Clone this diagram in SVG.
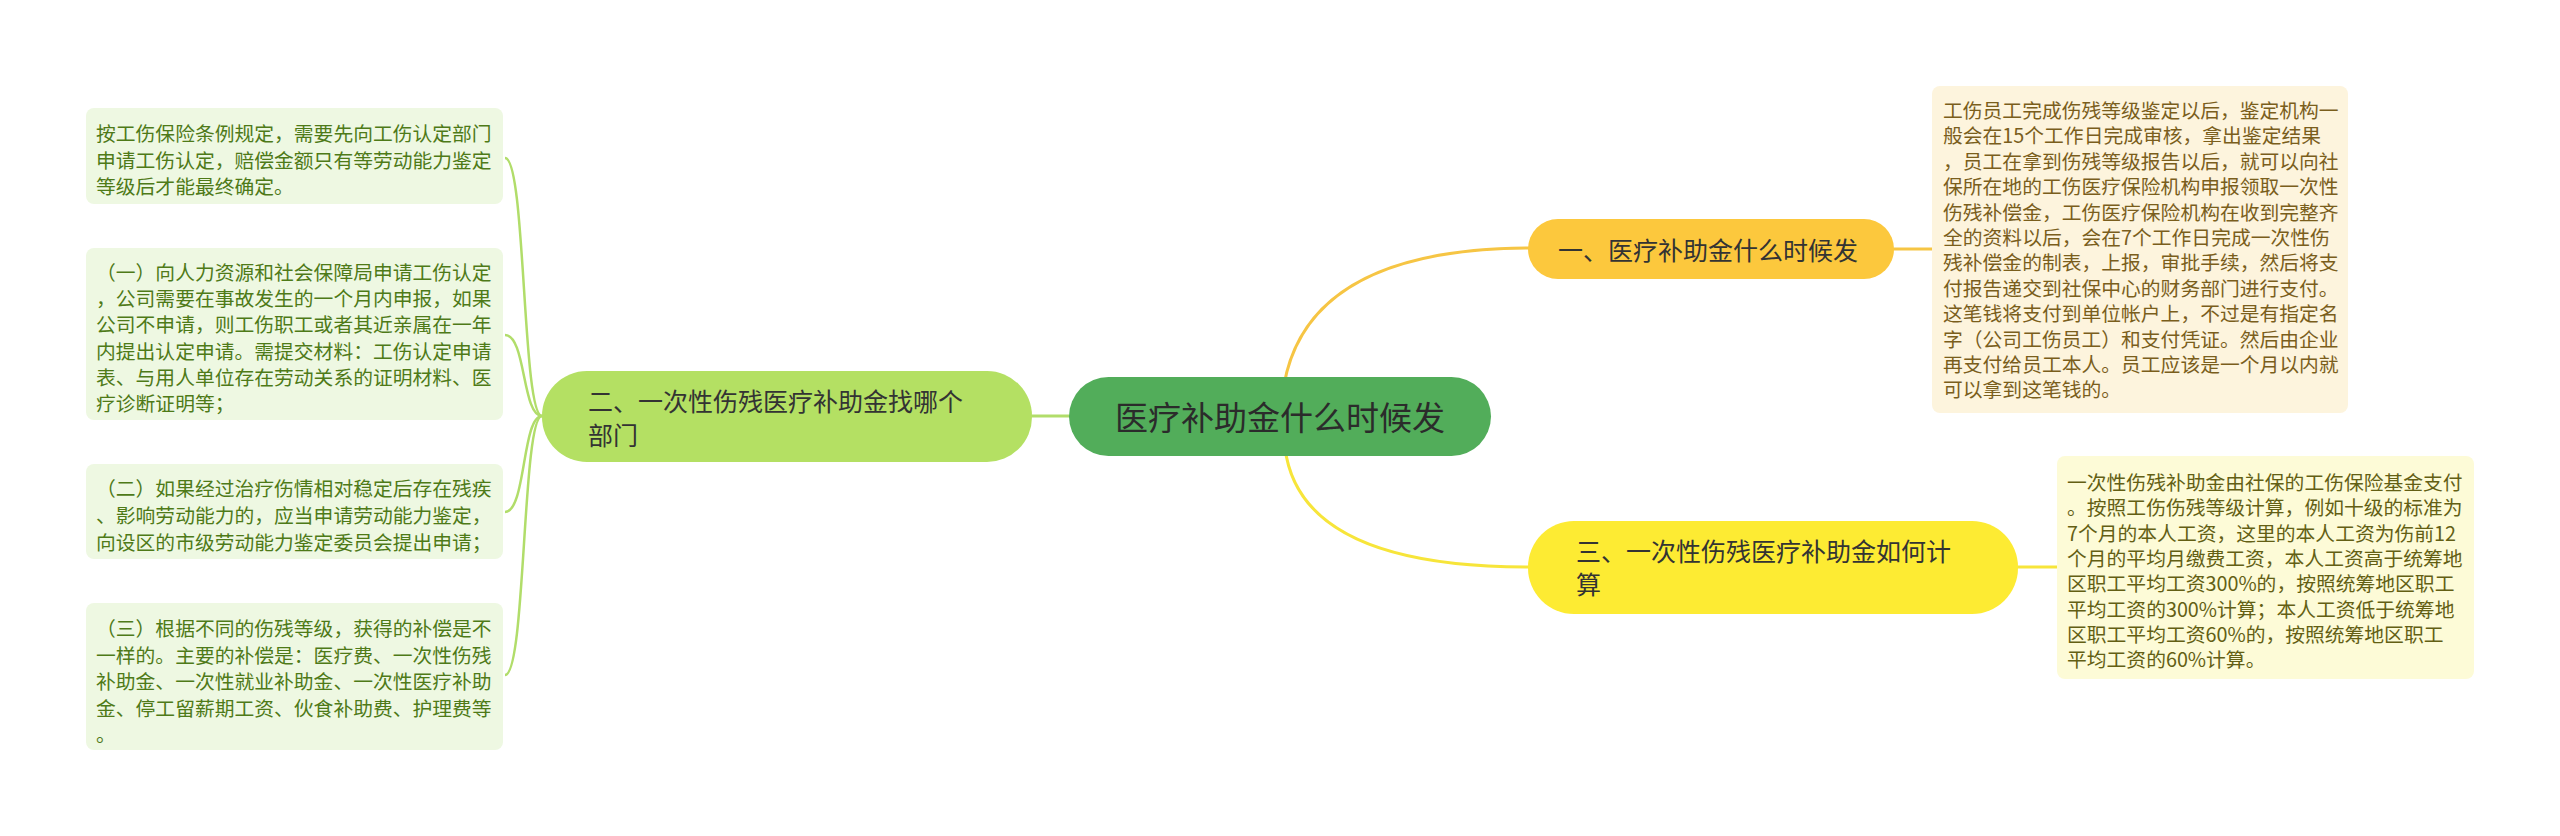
<svg xmlns="http://www.w3.org/2000/svg" width="2560" height="836" viewBox="0 0 2560 836">
<style>
text{font-family:"Noto Sans CJK SC","Noto Sans",sans-serif;dominant-baseline:central}
.c{fill:none;stroke-linecap:round}
.node-t{font-size:25px;fill:#333}
.body{font-size:19.8px}
.lb{fill:#eef8e2}
.lt{fill:#4e7a18}
</style>
<rect width="2560" height="836" fill="#fff"/>
<g id="connectors">
<path class="c" d="M1284,385 Q1308,249 1528,248 L1540,248" stroke="#f6c544" stroke-width="3"/>
<path class="c" d="M1285,448 Q1300,567 1528,567 L1540,567" stroke="#f7e53a" stroke-width="3"/>
<path class="c" d="M1894,249 L1932,249" stroke="#f6c544" stroke-width="3"/>
<path class="c" d="M2018,567 L2057,567" stroke="#f7e53a" stroke-width="3"/>
<path class="c" d="M1069,416 L1032,416" stroke="#b1dd6a" stroke-width="3"/>
<g stroke="#b1dd6a" stroke-width="2.5" fill="none">
<path d="M542,416 C522,416 526,158 505,158"/>
<path d="M542,416 C522,416 526,335 505,335"/>
<path d="M542,416 C522,416 526,512 505,512"/>
<path d="M542,416 C522,416 526,675 505,675"/>
</g>
</g>
<g id="center">
<rect x="1069" y="377" width="422" height="79" rx="39.5" fill="#52ad5a"/>
<text x="1280" y="416" font-size="33" fill="#2b2b2b" text-anchor="middle">医疗补助金什么时候发</text>
</g>
<g id="n1">
<rect x="1528" y="219" width="366" height="60" rx="30" fill="#fcc83d"/>
<text class="node-t" x="1558" y="249">一、医疗补助金什么时候发</text>
</g>
<g id="n3">
<rect x="1528" y="521" width="490" height="93" rx="46" fill="#fdeb33"/>
<text class="node-t"><tspan x="1576" y="550">三、一次性伤残医疗补助金如何计</tspan><tspan x="1576" y="583">算</tspan></text>
</g>
<g id="n2">
<rect x="542" y="371" width="490" height="91" rx="45" fill="#b4e063"/>
<text class="node-t"><tspan x="588" y="400">二、一次性伤残医疗补助金找哪个</tspan><tspan x="588" y="434">部门</tspan></text>
</g>
<g id="r1">
<rect x="1932" y="86" width="416" height="327" rx="8" fill="#fdf4dd"/>
<text class="body" fill="#7a5e1c">
<tspan x="1943" y="109">工伤员工完成伤残等级鉴定以后，鉴定机构一</tspan>
<tspan x="1943" y="134.4">般会在15个工作日完成审核，拿出鉴定结果</tspan>
<tspan x="1943" y="159.8">，员工在拿到伤残等级报告以后，就可以向社</tspan>
<tspan x="1943" y="185.2">保所在地的工伤医疗保险机构申报领取一次性</tspan>
<tspan x="1943" y="210.6">伤残补偿金，工伤医疗保险机构在收到完整齐</tspan>
<tspan x="1943" y="236">全的资料以后，会在7个工作日完成一次性伤</tspan>
<tspan x="1943" y="261.4">残补偿金的制表，上报，审批手续，然后将支</tspan>
<tspan x="1943" y="286.8">付报告递交到社保中心的财务部门进行支付。</tspan>
<tspan x="1943" y="312.2">这笔钱将支付到单位帐户上，不过是有指定名</tspan>
<tspan x="1943" y="337.6">字（公司工伤员工）和支付凭证。然后由企业</tspan>
<tspan x="1943" y="363">再支付给员工本人。员工应该是一个月以内就</tspan>
<tspan x="1943" y="388.4">可以拿到这笔钱的。</tspan>
</text>
</g>
<g id="r3">
<rect x="2057" y="456" width="417" height="223" rx="8" fill="#fdfbd7"/>
<text class="body" fill="#635f14">
<tspan x="2067" y="481">一次性伤残补助金由社保的工伤保险基金支付</tspan>
<tspan x="2067" y="506.3">。按照工伤伤残等级计算，例如十级的标准为</tspan>
<tspan x="2067" y="531.6">7个月的本人工资，这里的本人工资为伤前12</tspan>
<tspan x="2067" y="556.9">个月的平均月缴费工资，本人工资高于统筹地</tspan>
<tspan x="2067" y="582.2">区职工平均工资300%的，按照统筹地区职工</tspan>
<tspan x="2067" y="607.5">平均工资的300%计算；本人工资低于统筹地</tspan>
<tspan x="2067" y="632.8">区职工平均工资60%的，按照统筹地区职工</tspan>
<tspan x="2067" y="658.1">平均工资的60%计算。</tspan>
</text>
</g>
<g id="l1">
<rect class="lb" x="86" y="108" width="417" height="96" rx="8"/>
<text class="body lt">
<tspan x="96" y="132">按工伤保险条例规定，需要先向工伤认定部门</tspan>
<tspan x="96" y="158.5">申请工伤认定，赔偿金额只有等劳动能力鉴定</tspan>
<tspan x="96" y="185">等级后才能最终确定。</tspan>
</text>
</g>
<g id="l2">
<rect class="lb" x="86" y="248" width="417" height="172" rx="8"/>
<text class="body lt">
<tspan x="96" y="271">（一）向人力资源和社会保障局申请工伤认定</tspan>
<tspan x="96" y="297.2">，公司需要在事故发生的一个月内申报，如果</tspan>
<tspan x="96" y="323.4">公司不申请，则工伤职工或者其近亲属在一年</tspan>
<tspan x="96" y="349.6">内提出认定申请。需提交材料：工伤认定申请</tspan>
<tspan x="96" y="375.8">表、与用人单位存在劳动关系的证明材料、医</tspan>
<tspan x="96" y="402">疗诊断证明等；</tspan>
</text>
</g>
<g id="l3">
<rect class="lb" x="86" y="464" width="417" height="95" rx="8"/>
<text class="body lt">
<tspan x="96" y="487">（二）如果经过治疗伤情相对稳定后存在残疾</tspan>
<tspan x="96" y="514">、影响劳动能力的，应当申请劳动能力鉴定，</tspan>
<tspan x="96" y="541">向设区的市级劳动能力鉴定委员会提出申请；</tspan>
</text>
</g>
<g id="l4">
<rect class="lb" x="86" y="603" width="417" height="147" rx="8"/>
<text class="body lt">
<tspan x="96" y="627">（三）根据不同的伤残等级，获得的补偿是不</tspan>
<tspan x="96" y="653.5">一样的。主要的补偿是：医疗费、一次性伤残</tspan>
<tspan x="96" y="680">补助金、一次性就业补助金、一次性医疗补助</tspan>
<tspan x="96" y="706.5">金、停工留薪期工资、伙食补助费、护理费等</tspan>
<tspan x="96" y="733">。</tspan>
</text>
</g>
</svg>
